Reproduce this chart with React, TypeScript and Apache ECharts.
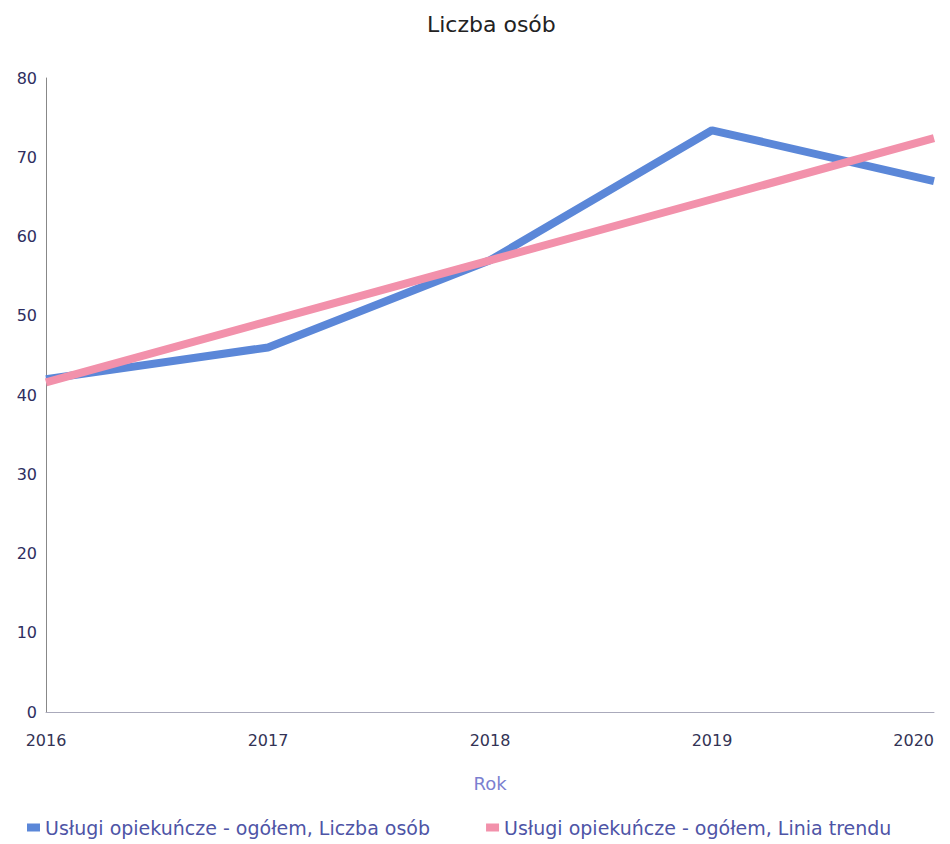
import React, { useEffect, useRef } from "react";
import * as echarts from "echarts";

const years = ["2016", "2017", "2018", "2019", "2020"];
const liczbaOsob = [42, 46, 57, 73.4, 67];
const liniaTrendu = [41.6, 49.3, 57, 64.7, 72.4];
const seriesNames = [
  "Usługi opiekuńcze - ogółem, Liczba osób",
  "Usługi opiekuńcze - ogółem, Linia trendu",
];

const FONT = "DejaVu Sans";

export default function App() {
  const ref = useRef<HTMLDivElement>(null);
  useEffect(() => {
    if (!ref.current) return;
    const chart = echarts.init(ref.current, null, { renderer: "svg" });
    chart.setOption({
      animation: false,
      backgroundColor: "#ffffff",
      title: {
        text: "Liczba osób",
        left: 414,
        top: 0,
        textStyle: { fontFamily: FONT, fontSize: 22, fontWeight: "normal", color: "#222" },
      },
      grid: { left: 38, right: 16, top: 70, bottom: 132 },
      legend: {
        bottom: 2,
        left: 14,
        itemWidth: 13,
        itemHeight: 8,
        itemGap: 56,
        icon: "rect",
        textStyle: { fontFamily: FONT, fontSize: 19, color: "#4e54a6" },
        data: seriesNames,
      },
      xAxis: {
        type: "category",
        data: years,
        boundaryGap: false,
        name: "Rok",
        nameLocation: "middle",
        nameGap: 62,
        nameTextStyle: { fontFamily: FONT, fontSize: 18, color: "#7b7fd0" },
        axisLine: { show: true, lineStyle: { color: "#aab", width: 1 } },
        axisTick: { show: false },
        axisLabel: { fontFamily: FONT, fontSize: 16, color: "#333355", margin: 20, alignMaxLabel: "right" },
        splitLine: { show: false },
      },
      yAxis: {
        type: "value",
        min: 0,
        max: 80,
        interval: 10,
        axisLine: { show: true, lineStyle: { color: "#888", width: 1 } },
        axisTick: { show: false },
        axisLabel: { fontFamily: FONT, fontSize: 16, color: "#2e2e60", margin: 9 },
        splitLine: { show: false },
      },
      series: [
        {
          name: seriesNames[0],
          type: "line",
          data: liczbaOsob,
          symbol: "none",
          lineStyle: { width: 8, color: "#5b87d8" },
          itemStyle: { color: "#5b87d8" },
          z: 2,
        },
        {
          name: seriesNames[1],
          type: "line",
          data: liniaTrendu,
          symbol: "none",
          lineStyle: { width: 8, color: "#f291ab" },
          itemStyle: { color: "#f291ab" },
          z: 3,
        },
      ],
    });
    return () => chart.dispose();
  }, []);
  return <div ref={ref} style={{ width: 942, height: 836 }} />;
}
